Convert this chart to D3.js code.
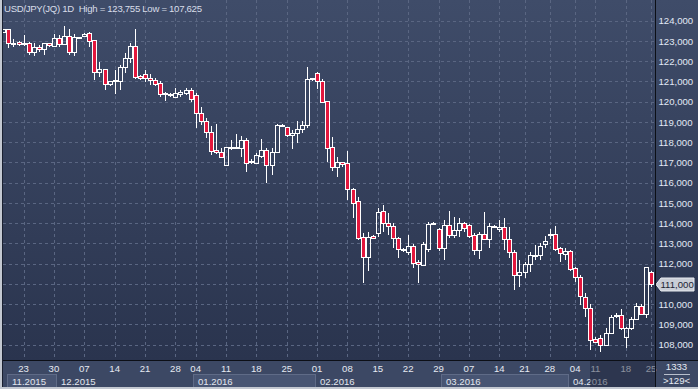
<!DOCTYPE html>
<html>
<head>
<meta charset="utf-8">
<script src="https://cdn.jsdelivr.net/npm/d3@7"></script>
<style>
  html, body { margin: 0; padding: 0; background: #3b4763; }
  svg { display: block; }
  text { font-family: "Liberation Sans", Arial, sans-serif; }
</style>
</head>
<body>
<div id="chart"></div>
<script>
// USD/JPY daily candles, Nov 2015 - Apr 2016
const opens  = [123.44,123.575,122.86,122.93,122.86,122.88,122.45,122.72,122.59,122.88,122.75,123.13,122.85,123.26,122.47,123.17,123.24,123.38,123.05,121.45,
  121.60,120.87,121.06,121.04,121.70,122.14,122.75,121.27,121.36,121.15,121.07,120.91,120.39,120.37,120.22,120.37,120.41,120.58,120.33,119.43,
  119.05,118.52,117.61,117.52,116.86,117.74,117.72,117.70,118.11,117.02,116.96,117.33,117.61,116.86,117.50,118.84,118.74,118.36,118.44,118.64,
  118.85,121.12,121.40,121.02,120.03,117.75,116.79,117.01,116.96,115.67,115.10,113.33,112.35,113.37,113.53,114.60,114.00,113.86,113.25,112.72,
  112.59,112.87,112.07,111.94,112.73,114.01,113.70,112.76,113.91,113.42,113.67,114.00,113.91,113.42,112.68,113.45,113.20,113.85,113.70,113.80,
  113.20,112.59,111.44,111.58,111.97,112.42,112.43,112.96,113.44,113.45,112.76,112.46,112.63,111.77,111.36,110.37,109.80,108.28,108.32,107.99,
  108.56,109.46,109.47,108.40,108.81,109.27,109.93,109.50,111.60];
const highs  = [123.60,123.60,123.08,122.98,123.29,122.96,122.88,122.80,122.91,122.91,123.34,123.29,123.755,123.59,123.34,123.21,123.41,123.46,123.06,121.98,
  121.62,121.04,121.57,121.81,122.42,122.91,123.57,121.32,121.57,121.37,121.16,121.02,120.49,120.45,120.66,120.58,120.66,120.66,120.41,119.75,
  119.18,118.80,118.90,117.70,117.78,118.11,118.40,118.31,118.19,117.16,117.45,118.14,117.70,117.70,118.88,118.90,118.77,118.60,119.06,119.05,
  121.73,121.17,121.45,121.11,120.05,118.27,117.28,117.03,117.58,115.72,115.31,113.50,113.58,113.40,114.73,114.90,114.49,113.99,113.33,112.76,
  113.42,112.96,112.18,113.09,114.07,114.07,113.78,114.16,114.60,114.32,114.27,114.05,113.95,113.50,113.58,114.57,113.99,113.91,114.16,114.24,
  113.83,112.68,112.18,112.10,112.56,112.94,113.01,113.38,113.71,113.88,112.84,112.76,112.68,111.85,111.44,110.54,109.99,108.40,108.48,108.81,
  109.47,109.55,109.76,108.89,109.38,110.04,110.00,111.85,111.64];
const lows   = [123.40,122.64,122.72,122.74,122.74,122.30,122.26,122.47,122.29,122.72,122.72,122.72,122.80,122.30,122.26,123.15,123.21,122.72,121.07,121.23,
  120.58,120.78,120.38,120.58,121.43,121.90,121.11,121.07,120.99,120.83,120.78,120.25,120.05,120.25,120.17,120.25,120.33,120.00,118.69,118.85,
  118.19,117.37,117.42,117.21,116.83,117.61,117.65,117.28,116.54,116.92,116.91,117.20,115.97,116.38,117.45,118.80,118.24,117.65,117.98,118.44,
  118.69,121.04,120.61,119.92,117.04,116.59,116.30,116.79,115.15,114.24,113.17,111.03,111.65,113.22,113.33,113.58,113.42,112.76,112.30,112.56,
  112.43,111.80,111.03,111.90,112.59,113.95,112.63,112.18,113.28,113.25,113.33,113.58,113.25,112.43,112.25,113.17,112.79,113.78,113.58,112.68,
  112.27,110.70,110.84,111.28,111.60,112.18,112.18,112.76,113.22,112.63,112.10,112.18,111.64,111.11,109.96,109.38,107.74,108.07,107.625,107.95,
  108.51,109.30,108.73,107.85,108.73,109.22,109.47,109.30,110.86];
const closes = [123.575,122.88,122.90,122.83,122.90,122.47,122.72,122.59,122.88,122.78,123.13,122.85,123.26,122.47,123.21,123.19,123.36,123.01,121.45,121.60,
  120.86,121.00,121.08,121.70,122.14,122.75,121.23,121.15,121.18,121.06,120.86,120.37,120.42,120.39,120.41,120.49,120.58,120.12,119.43,119.05,
  118.49,117.58,117.52,117.28,117.75,117.77,117.74,118.11,116.99,117.05,117.37,117.61,116.86,117.50,118.85,118.86,118.36,118.47,118.65,118.85,
  121.11,121.15,121.02,120.00,117.73,116.79,117.01,116.91,115.67,115.01,113.28,112.35,113.33,113.25,114.57,114.00,113.86,113.28,112.71,112.74,
  112.87,112.05,111.97,112.96,113.95,114.03,112.76,113.91,113.42,113.67,114.00,113.75,113.38,112.68,113.45,113.20,113.86,113.87,113.83,113.20,
  112.59,111.44,111.58,111.97,112.43,112.44,112.89,113.14,113.46,112.73,112.51,112.63,111.74,111.36,110.40,109.83,108.23,108.12,107.99,108.56,
  109.38,109.48,108.81,108.84,109.27,109.93,109.50,111.82,111.00];

const priceTicks = d3.range(108, 125, 1);
const dayTickIdx    = [4, 10, 16, 22, 28, 34, 38, 44, 50, 56, 62, 68, 74, 80, 86, 92, 98, 103, 108, 113, 117, 123, 128];
const dayTickLabels = ["23","30","07","14","21","28","04","11","18","25","01","08","15","22","29","07","14","21","28","04","11","18","25"];
const monthStartIdx = [0, 11, 38, 62, 87, 112];
const monthLabels   = ["11.2015","12.2015","01.2016","02.2016","03.2016","04.2016"];
const title = "USD/JPY(JQ) 1D\u00a0\u00a0High = 123,755 Low = 107,625";
const counterTop = "1333";

const W = 698, H = 389;
const plotL = 2, plotR = 655, plotB = 360;
const fmt = v => d3.format(".3f")(v).replace(".", ",");

const svg = d3.select("#chart").append("svg")
  .attr("width", W).attr("height", H);

const defs = svg.append("defs");
const grad = defs.append("linearGradient").attr("id", "bg")
  .attr("x1", 0).attr("y1", 0).attr("x2", 0).attr("y2", 1);
grad.append("stop").attr("offset", "0%").attr("stop-color", "#3f4c69");
grad.append("stop").attr("offset", "100%").attr("stop-color", "#2a344e");

// frame + backgrounds
svg.append("rect").attr("width", W).attr("height", H).attr("fill", "#3d4965");
svg.append("rect").attr("x", plotL).attr("y", 0).attr("width", W - plotL).attr("height", plotB)
  .attr("fill", "url(#bg)");

const x = d3.scaleBand().domain(d3.range(closes.length)).range([0.8, 653.6]);
const cx = i => Math.round(x(i) + x.bandwidth() / 2);
const y = d3.scaleLinear().domain([108, 124]).range([344.7, 20.7]);

// grid
const grid = svg.append("g").attr("stroke", "#5a6682").attr("stroke-dasharray", "3,3")
  .attr("stroke-width", 1);
grid.selectAll(".hg").data(priceTicks).join("line")
  .attr("x1", plotL + 1).attr("x2", plotR)
  .attr("y1", d => Math.round(y(d)) + 0.5).attr("y2", d => Math.round(y(d)) + 0.5);
grid.selectAll(".vg").data(dayTickIdx).join("line")
  .attr("x1", d => cx(d) + 0.5).attr("x2", d => cx(d) + 0.5)
  .attr("y1", 0).attr("y2", plotB);

// candles
const candles = svg.append("g").selectAll("g").data(closes.map((c, i) => i)).join("g");
candles.each(function (i) {
  const g = d3.select(this);
  const xc = cx(i) + 0.5;
  const top = Math.round(y(Math.max(opens[i], closes[i])));
  const bot = Math.max(Math.round(y(Math.min(opens[i], closes[i]))), top + 1);
  g.append("line").attr("x1", xc).attr("x2", xc)
    .attr("y1", Math.round(y(highs[i]))).attr("y2", top)
    .attr("stroke", "#fff");
  g.append("line").attr("x1", xc).attr("x2", xc)
    .attr("y1", bot).attr("y2", Math.round(y(lows[i])))
    .attr("stroke", "#fff");
  g.append("rect")
    .attr("x", cx(i) - 1.5).attr("y", top + 0.5)
    .attr("width", 4).attr("height", bot - top)
    .attr("fill", closes[i] < opens[i] ? "#e3173d" : "none")
    .attr("stroke", "#fff").attr("stroke-width", 1);
});

// title
svg.append("text").attr("x", 4).attr("y", 12)
  .attr("font-size", "9.6px").attr("fill", "#d8dde8")
  .attr("textLength", 198).attr("lengthAdjust", "spacing").text(title);

// bottom date axis strip
svg.append("rect").attr("x", plotL).attr("y", plotB).attr("width", W - plotL).attr("height", H - plotB)
  .attr("fill", "#3c4864");

const months = svg.append("g");
monthStartIdx.forEach((s, k) => {
  const x0 = k === 0 ? 7 : Math.round(x(s));
  const x1 = k + 1 < monthStartIdx.length ? Math.round(x(monthStartIdx[k + 1])) : plotR;
  if (k % 2 === 0) {
    months.append("rect").attr("x", x0 + 0.5).attr("y", 374.5)
      .attr("width", x1 - x0).attr("height", 14)
      .attr("fill", "#485573").attr("stroke", "#5f6b87");
  }
  months.append("text").attr("x", x0 + 5).attr("y", 384.5)
    .attr("font-size", "9.6px").attr("fill", "#e3e7ef").text(monthLabels[k]);
});

const xAxis = svg.append("g").attr("transform", `translate(0,${plotB + 1})`)
  .call(d3.axisBottom(x).tickValues(dayTickIdx)
    .tickFormat(d => dayTickLabels[dayTickIdx.indexOf(d)])
    .tickSize(0).tickPadding(4.6));
xAxis.select(".domain").remove();
xAxis.selectAll("text").attr("font-size", "9.6px").attr("fill", "#e6eaf2")
  .attr("font-family", "Liberation Sans, Arial, sans-serif");

// dimmed "future" zone of the date strip
svg.append("rect").attr("x", Math.round(x(116)) + 2).attr("y", plotB + 1)
  .attr("width", plotR - Math.round(x(116)) - 2).attr("height", H - plotB - 3)
  .attr("fill", "#1a2236").attr("opacity", 0.45);

// right price axis (the label under the last-price tag is hidden by it)
const last = closes[closes.length - 1];
const yAxis = svg.append("g").attr("transform", `translate(${plotR},0)`)
  .call(d3.axisRight(y).tickValues(priceTicks.filter(t => Math.abs(t - last) > 0.3))
    .tickFormat(fmt).tickSize(0).tickPadding(3.5));
yAxis.select(".domain").remove();
yAxis.selectAll("text").attr("font-size", "9.6px").attr("fill", "#e2e9f5")
  .attr("font-family", "Liberation Sans, Arial, sans-serif");

// last price tag
const ly = Math.round(y(last)) + 0.5;
svg.append("path")
  .attr("d", `M656,${ly} L661,${ly - 6.5} L694,${ly - 6.5} L694,${ly + 6.5} L661,${ly + 6.5} Z`)
  .attr("fill", "#c9cdd6").attr("stroke", "#e8ebf0");
svg.append("text").attr("x", 660.5).attr("y", ly + 3.4)
  .attr("font-size", "9.6px").attr("fill", "#1c2333").text(fmt(last));

// counter box bottom right
svg.append("text").attr("x", 676.5).attr("y", 370).attr("text-anchor", "middle")
  .attr("font-size", "9.6px").attr("fill", "#e6eaf2").text(counterTop);
svg.append("line").attr("x1", 664).attr("x2", 690).attr("y1", 374.5).attr("y2", 374.5)
  .attr("stroke", "#b8bfcc");
svg.append("text").attr("x", 676.5).attr("y", 384).attr("text-anchor", "middle")
  .attr("font-size", "9.6px").attr("fill", "#e6eaf2").text(`>${closes.length}<`);

// separators and frame
svg.append("line").attr("x1", plotR + 0.5).attr("x2", plotR + 0.5).attr("y1", 0).attr("y2", H)
  .attr("stroke", "#0c0f16");
svg.append("line").attr("x1", plotL).attr("x2", W).attr("y1", plotB + 0.5).attr("y2", plotB + 0.5)
  .attr("stroke", "#0c0f16");
svg.append("line").attr("x1", 2.5).attr("x2", 2.5).attr("y1", 0).attr("y2", H)
  .attr("stroke", "#1a2030");
svg.append("rect").attr("x", 0).attr("y", 0).attr("width", 2).attr("height", H).attr("fill", "#c3c8d1");
svg.append("rect").attr("x", 0).attr("y", H - 2).attr("width", W).attr("height", 2).attr("fill", "#c3c8d1");
</script>
</body>
</html>
